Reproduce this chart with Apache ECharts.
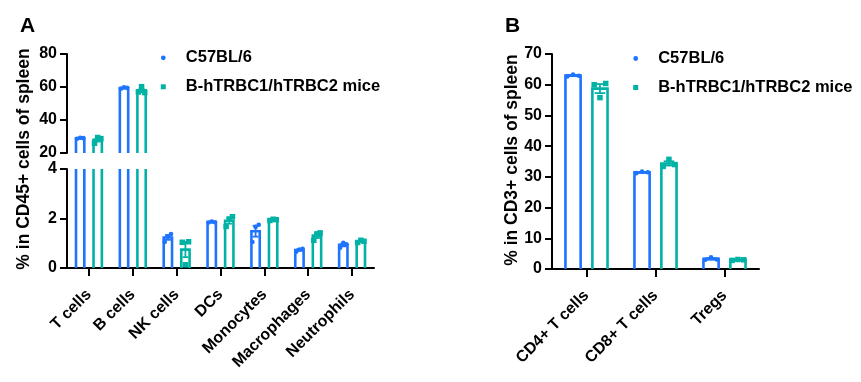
<!DOCTYPE html>
<html><head><meta charset="utf-8">
<script src="https://cdn.jsdelivr.net/npm/echarts@6/dist/echarts.min.js"></script>
<style>html,body{margin:0;padding:0;background:#fff}#c{width:861px;height:382px}</style>
</head><body><div id="c"></div>
<script>
// ---------- data ----------
const seriesNames = ['C57BL/6', 'B-hTRBC1/hTRBC2 mice'];
const categoriesA = ['T cells', 'B cells', 'NK cells', 'DCs', 'Monocytes', 'Macrophages', 'Neutrophils'];
const c57A = [[28.6, 29.2, 29.0], [58.9, 59.8, 59.5], [1.05, 1.28, 1.37], [1.84, 1.88, 1.85], [1.05, 1.66, 1.75], [0.66, 0.75, 0.78], [0.82, 1.02, 0.96]];
const humA = [[25.9, 29.4, 28.7], [57.0, 60.2, 56.6], [1.04, 0.13, 1.06], [1.68, 1.98, 2.07], [1.92, 1.97, 1.95], [1.12, 1.38, 1.42], [1.03, 1.12, 1.08]];
const categoriesB = ['CD4+ T cells', 'CD8+ T cells', 'Tregs'];
const c57B = [[62.7, 63.3, 62.9], [31.2, 31.7, 31.5], [3.0, 3.8, 3.1]];
const humB = [[60.0, 55.8, 60.4], [33.4, 35.7, 34.0], [2.8, 3.1, 3.0]];
const yTicksAUpper = [20, 40, 60, 80];
const yTicksALower = [0, 2, 4];
const yTicksB = [0, 10, 20, 30, 40, 50, 60, 70];
const yTitleA = '% in CD45+ cells of spleen';
const yTitleB = '% in CD3+ cells of spleen';

// ---------- style ----------
const FONT = '"Liberation Sans", Arial, sans-serif';
const COLORS = ['#1f74ff', '#00b2a6'];

function stats(reps) {
  const n = reps.length;
  const m = reps.reduce((a, b) => a + b, 0) / n;
  const sd = Math.sqrt(reps.reduce((a, b) => a + (b - m) * (b - m), 0) / (n - 1));
  return [m, sd / Math.sqrt(n)];
}

function groupSeries(cfg) {
  const data = cfg.reps.map((r, i) => { const st = stats(r); return [i, st[0], st[1]].concat(r); });
  return {
    type: 'custom', name: cfg.name, xAxisIndex: cfg.axis, yAxisIndex: cfg.axis,
    data: data, encode: { x: 0, y: 1 },
    renderItem: function (params, api) {
      const i = api.value(0), m = api.value(1), s = api.value(2);
      const reps = [api.value(3), api.value(4), api.value(5)];
      if (m <= cfg.min) return null;
      const band = api.size([1, 0])[0];
      const w = cfg.width * band;
      const cx = api.coord([i, cfg.min])[0] + cfg.side * cfg.offset * band;
      const yBase = api.coord([i, cfg.min])[1];
      const clipped = m > cfg.max;
      const yTop = api.coord([i, Math.min(m, cfg.max)])[1];
      const x0 = cx - w / 2, x1 = cx + w / 2;
      const st = { stroke: cfg.color, lineWidth: 2.6, fill: null };
      const ch = [];
      if (clipped) {
        ch.push({ type: 'line', shape: { x1: x0, y1: yBase, x2: x0, y2: yTop }, style: st });
        ch.push({ type: 'line', shape: { x1: x1, y1: yBase, x2: x1, y2: yTop }, style: st });
      } else {
        ch.push({ type: 'polyline', shape: { points: [[x0, yBase], [x0, yTop], [x1, yTop], [x1, yBase]] }, style: st });
        const lo = Math.max(m - s, cfg.min), hi = Math.min(m + s, cfg.max);
        const yl = api.coord([i, lo])[1], yh = api.coord([i, hi])[1];
        const cw = w * 0.35;
        const es = { stroke: cfg.color, lineWidth: 1.8 };
        ch.push({ type: 'line', shape: { x1: cx, y1: yl, x2: cx, y2: yh }, style: es });
        ch.push({ type: 'line', shape: { x1: cx - cw, y1: yh, x2: cx + cw, y2: yh }, style: es });
        if (m - s > cfg.min) ch.push({ type: 'line', shape: { x1: cx - cw, y1: yl, x2: cx + cw, y2: yl }, style: es });
      }
      reps.forEach(function (v, k) {
        if (v < cfg.min || v > cfg.max) return;
        const px = cx + (k - 1) * cfg.jitter * w;
        const py = api.coord([i, v])[1];
        if (cfg.symbol === 'circle') {
          ch.push({ type: 'circle', shape: { cx: px, cy: py, r: cfg.size / 2 }, style: { fill: cfg.color } });
        } else {
          ch.push({ type: 'rect', shape: { x: px - cfg.size / 2, y: py - cfg.size / 2, width: cfg.size, height: cfg.size }, style: { fill: cfg.color } });
        }
      });
      return { type: 'group', children: ch };
    }
  };
}

const axisLabelStyle = { color: '#000', fontWeight: 'bold', fontSize: 16, fontFamily: FONT };
const lineStyle = { color: '#000', width: 2 };

function yAxis(grid, ticks) {
  return {
    type: 'value', gridIndex: grid, min: ticks[0], max: ticks[ticks.length - 1], interval: ticks[1] - ticks[0],
    axisLine: { show: true, lineStyle: lineStyle },
    axisTick: { show: true, length: 7, lineStyle: lineStyle },
    splitLine: { show: false },
    axisLabel: Object.assign({ margin: 10 }, axisLabelStyle)
  };
}
function xAxis(grid, cats, show) {
  return {
    type: 'category', gridIndex: grid, data: cats, show: show,
    axisLine: { show: true, lineStyle: lineStyle },
    axisTick: { show: true, alignWithLabel: true, length: 8, lineStyle: lineStyle },
    axisLabel: Object.assign({ rotate: 45, margin: 24, interval: 0 }, axisLabelStyle)
  };
}

const series = [];
const panels = [
  { axis: 0, cats: categoriesA, data: [c57A, humA], min: yTicksAUpper[0], max: yTicksAUpper[yTicksAUpper.length - 1], width: 0.19, offset: 0.2 },
  { axis: 1, cats: categoriesA, data: [c57A, humA], min: yTicksALower[0], max: yTicksALower[yTicksALower.length - 1], width: 0.19, offset: 0.2 },
  { axis: 2, cats: categoriesB, data: [c57B, humB], min: yTicksB[0], max: yTicksB[yTicksB.length - 1], width: 0.22, offset: 0.195 }
];
panels.forEach(function (p) {
  [0, 1].forEach(function (g) {
    series.push(groupSeries({
      name: seriesNames[g], axis: p.axis, reps: p.data[g], min: p.min, max: p.max,
      width: p.width, offset: p.offset, side: g === 0 ? -1 : 1, color: COLORS[g],
      symbol: g === 0 ? 'circle' : 'rect', size: g === 0 ? 4.6 : 5.5, jitter: 0.38
    }));
  });
});

function legendGraphics(x, y) {
  return [
    { type: 'circle', shape: { cx: x, cy: y, r: 2.4 }, style: { fill: COLORS[0] } },
    { type: 'rect', shape: { x: x - 2.5, y: y + 26.5, width: 5, height: 5 }, style: { fill: COLORS[1] } },
    { type: 'text', x: x + 22.5, y: y, style: { text: seriesNames[0], font: 'bold 16.5px ' + FONT, fill: '#000', verticalAlign: 'middle', align: 'left' } },
    { type: 'text', x: x + 22.5, y: y + 29, style: { text: seriesNames[1], font: 'bold 16.5px ' + FONT, fill: '#000', verticalAlign: 'middle', align: 'left' } }
  ];
}

const graphic = [
  { type: 'text', x: 20, y: 16, style: { text: 'A', font: 'bold 21px ' + FONT, fill: '#000' } },
  { type: 'text', x: 505, y: 16, style: { text: 'B', font: 'bold 21px ' + FONT, fill: '#000' } },
  { type: 'text', x: 24, y: 159, rotation: Math.PI / 2, style: { text: yTitleA, font: 'bold 17.5px ' + FONT, fill: '#000', align: 'center', verticalAlign: 'middle' } },
  { type: 'text', x: 512, y: 160, rotation: Math.PI / 2, style: { text: yTitleB, font: 'bold 17.5px ' + FONT, fill: '#000', align: 'center', verticalAlign: 'middle' } }
].concat(legendGraphics(163.3, 57.8)).concat(legendGraphics(635.7, 58.5));

const chart = echarts.init(document.getElementById('c'));
chart.setOption({
  animation: false,
  backgroundColor: '#fff',
  textStyle: { fontFamily: FONT },
  grid: [
    { left: 67, top: 54, width: 307, height: 99 },
    { left: 67, top: 169, width: 307, height: 99 },
    { left: 552, top: 54, width: 207, height: 215 }
  ],
  xAxis: [xAxis(0, categoriesA, false), xAxis(1, categoriesA, true), xAxis(2, categoriesB, true)],
  yAxis: [yAxis(0, yTicksAUpper), yAxis(1, yTicksALower), yAxis(2, yTicksB)],
  graphic: graphic,
  series: series
});
</script></body></html>
